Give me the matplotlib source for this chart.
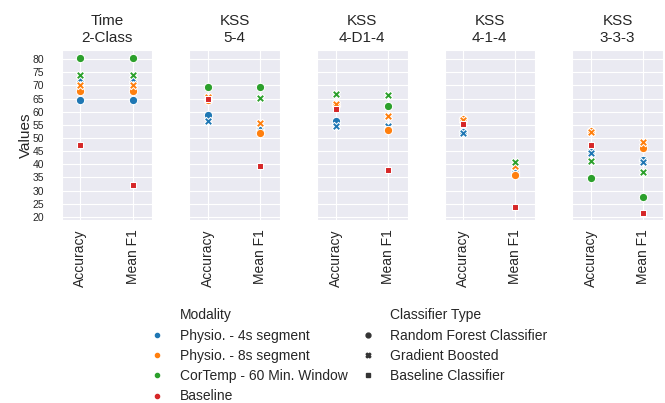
import numpy as np
import matplotlib
matplotlib.use('Agg')
import matplotlib.pyplot as plt
from matplotlib.lines import Line2D
import seaborn as sns

#%% 데이터
panels = ['Time\n2-Class', 'KSS\n5-4', 'KSS\n4-D1-4', 'KSS\n4-1-4', 'KSS\n3-3-3']
metrics = ['Accuracy', 'Mean F1']
modalities = ['Physio. - 4s segment', 'Physio. - 8s segment', 'CorTemp - 60 Min. Window', 'Baseline']
classifiers = ['Random Forest Classifier', 'Gradient Boosted', 'Baseline Classifier']
nan = np.nan

# [panel][metric]
physio4_rf = [[64.5, 64.5], [58.6, 53.2], [56.3, 53.4], [52.2, 37.0], [44.9, 41.6]]
physio4_gb = [[72.4, 72.4], [56.5, 54.0], [54.4, 54.4], [51.9, 37.3], [44.2, 41.0]]
physio8_rf = [[67.8, 67.8], [64.5, 51.9], [62.5, 53.0], [57.3, 35.9], [52.6, 46.3]]
physio8_gb = [[70.0, 70.0], [65.5, 55.9], [63.0, 58.3], [56.8, 39.4], [52.4, 48.5]]
cortemp_rf = [[80.5, 80.5], [69.6, 69.3], [nan, 62.1], [nan, nan], [34.8, 27.4]]
cortemp_gb = [[74.1, 74.1], [nan, 65.3], [66.8, 66.2], [nan, 40.8], [41.3, 36.9]]
baseline = [[47.5, 32.2], [64.8, 39.3], [61.1, 37.9], [55.3, 23.7], [47.4, 21.4]]

#%% 스타일
sns.set_style('darkgrid')
plt.rcParams['font.family'] = ['Liberation Sans', 'DejaVu Sans']

pal = sns.color_palette('tab10')
colors = [pal[0], pal[1], pal[2], pal[3]]
markers = ['o', 'X', (4, 0, 45)]

series = [
    (physio4_rf, 0, 0), (physio4_gb, 0, 1),
    (physio8_rf, 1, 0), (physio8_gb, 1, 1),
    (cortemp_rf, 2, 0), (cortemp_gb, 2, 1),
    (baseline, 3, 2),
]

fig = plt.figure(figsize=(6.65, 4.03), dpi=100)
W, H = 665, 403
ax_w, gap = 90.7, 36.9
left0, top, bottom = 61.7, 50, 220
axes = []
for i in range(5):
    x0 = left0 + i * (ax_w + gap)
    ax = fig.add_axes([x0 / W, 1 - bottom / H, ax_w / W, (bottom - top) / H],
                      sharey=axes[0] if axes else None)
    axes.append(ax)

for i, ax in enumerate(axes):
    for vals, m, c in series:
        ax.scatter([0, 1], vals[i], color=colors[m], marker=markers[c],
                   s=36, edgecolor='white', linewidth=0.75, zorder=3)
    ax.set_xticks([0, 1])
    ax.set_xticklabels(metrics, rotation=90, fontsize=10)
    ax.set_xlim(-0.36, 1.38)
    ax.set_title(panels[i], fontsize=11, pad=6)
    ax.tick_params(axis='y', labelsize=7.5, pad=9)
    if i > 0:
        ax.tick_params(axis='y', labelleft=False)

axes[0].set_yticks(np.arange(20, 81, 5))
axes[0].set_ylim(18.8, 83.5)
axes[0].set_ylabel('Values', fontsize=11, labelpad=0)

# 범례
blank = Line2D([], [], linestyle='none', marker='')
handles = [blank]
labels = ['Modality']
for m, name in enumerate(modalities):
    handles.append(Line2D([], [], linestyle='none', marker='o', color=colors[m], markersize=3))
    labels.append(name)
handles.append(blank)
labels.append('Classifier Type')
for c, name in enumerate(classifiers):
    handles.append(Line2D([], [], linestyle='none', marker=markers[c], color='#333333', markersize=3.5))
    labels.append(name)

fig.legend(handles, labels, ncol=2, frameon=False, fontsize=10,
           loc='upper left', bbox_to_anchor=(131 / W, 1 - 296 / H),
           labelspacing=0.45, handletextpad=0.6, columnspacing=0.5)

plt.savefig('out.png', dpi=100)
